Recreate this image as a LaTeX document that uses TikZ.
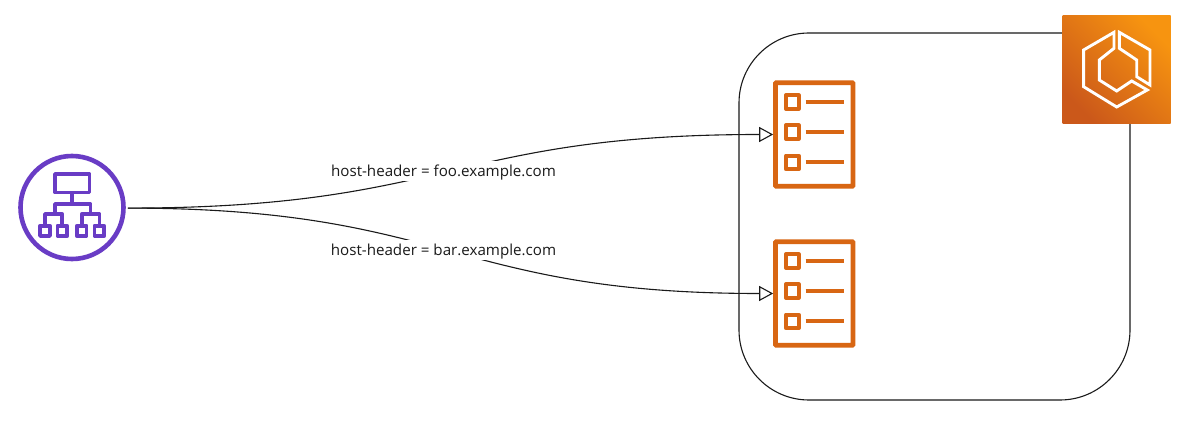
\documentclass[tikz,border=0pt]{standalone}
\usepackage{fontspec}
\setmainfont{Open Sans}
\usetikzlibrary{arrows.meta}
\definecolor{lbpurple}{HTML}{693CC5}
\definecolor{listorange}{HTML}{D86613}
\definecolor{ecslow}{HTML}{CB581A}
\definecolor{ecshigh}{HTML}{F79410}
\definecolor{linecol}{HTML}{1A1A1A}
\tikzset{
  container/.style={draw=linecol,line width=1.1pt,rounded corners=70pt,minimum width=391pt,minimum height=367pt,inner sep=0pt,outer sep=0pt},
  lbring/.style={circle,draw=lbpurple,line width=4.6pt,minimum size=103pt,inner sep=0pt},
  lbpart/.style={draw=lbpurple,line width=3.8pt,line join=round},
  listbox/.style={draw=listorange,line width=4.6pt,fill=white,rounded corners=0.6pt,minimum width=77.5pt,minimum height=103.5pt,inner sep=0pt},
  listitem/.style={draw=listorange,line width=4.3pt,line join=round},
  listline/.style={draw=listorange,line width=4pt},
  ecsbox/.style={minimum width=108pt,minimum height=108pt,inner sep=0pt,outer sep=0pt,left color=ecslow,right color=ecshigh,shading angle=135},
  ecslogo/.style={draw=white,line width=2.9pt,line join=miter},
  flow/.style={draw=linecol,line width=1.1pt,-{Triangle[open,fill=white,length=14pt,width=15pt,line width=1.1pt]}},
  flowlabel/.style={fill=white,inner sep=0pt,minimum width=227pt,minimum height=19.5pt,font=\fontsize{15.15pt}{18pt}\selectfont,text=linecol},
  listicon/.pic={
    \draw[listitem] (-28.2,-39.2) rectangle (-15.5,-25.8);
    \draw[listitem] (-28.2,-9.2) rectangle (-15.5,4.2);
    \draw[listitem] (-28.2,21.3) rectangle (-15.5,34.5);
    \draw[listline] (-8.5,-32.5) -- (30.1,-32.5);
    \draw[listline] (-8.5,-2.5) -- (30.1,-2.5);
    \draw[listline] (-8.5,27.8) -- (30.1,27.8);
  }
}
\begin{document}
\begin{tikzpicture}[x=1pt,y=-1pt]
\useasboundingbox (0,0) rectangle (1200,430);
\fill[white] (0,0) rectangle (1200,430);
\node[container] (cluster) at (934.5,216.5) {};
\node[ecsbox] (ecs) at (1116.7,69.5) {};
% ECS logo
\draw[ecslogo] (1114,32.3) -- (1083.6,50) -- (1083.6,86.7) -- (1116.7,107) -- (1147.3,90) -- (1131.7,81) -- (1116.7,91) -- (1099.3,80) -- (1099.3,60) -- (1114,48.3) -- cycle;
\draw[ecslogo] (1119.3,32.3) -- (1150,50) -- (1150,85) -- (1136.7,76.7) -- (1136.7,60) -- (1119.3,48.3) -- cycle;
% Load balancer
\node[lbring] (lb) at (72,207.5) {};
\draw[lbpart] (55,174) rectangle (89.5,192.5);
\draw[lbpart] (72.3,192.5) -- (72.3,204);
\draw[lbpart] (55,214) -- (55,204) -- (90.5,204) -- (90.5,214);
\draw[lbpart] (45,224) -- (45,214) -- (62.3,214) -- (62.3,224);
\draw[lbpart] (81.7,224) -- (81.7,214) -- (99.4,214) -- (99.4,224);
\draw[lbpart] (40.1,225.8) rectangle (49.9,235.9);
\draw[lbpart] (57.5,225.8) rectangle (67.2,235.9);
\draw[lbpart] (76.8,225.8) rectangle (86.5,235.9);
\draw[lbpart] (94.5,225.8) rectangle (104.2,235.9);
% List icons
\node[listbox] (foo) at (814.2,134.5) {};
\pic at (814.2,134.5) {listicon};
\node[listbox] (bar) at (814.2,293.5) {};
\pic at (814.2,293.5) {listicon};
% Connectors
\draw[flow] ([shift={(2,0.6)}]lb.east) .. controls +(322,0) and +(-322,0) .. (foo.west);
\draw[flow] ([shift={(2,0.6)}]lb.east) .. controls +(322,0) and +(-322,0) .. (bar.west);
\node[flowlabel,text depth=2.5pt] (foolabel) at (443.5,171) {\raisebox{-1.5pt}{host-header = foo.example.com}};
\node[flowlabel,text depth=2.5pt] (barlabel) at (443.5,250) {\raisebox{-1.5pt}{host-header = bar.example.com}};
\end{tikzpicture}
\end{document}
